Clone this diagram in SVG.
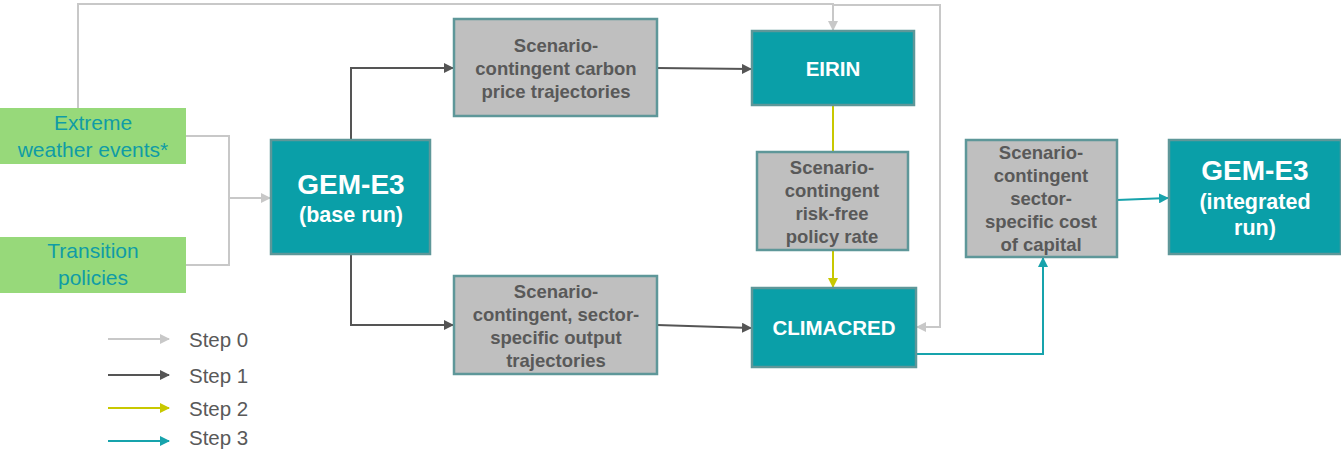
<svg xmlns="http://www.w3.org/2000/svg" width="1341" height="450" viewBox="0 0 1341 450">
<defs>
<style>
.green{fill:#97D97A;}
.gtxt{font-family:"Liberation Sans",Arial,sans-serif;font-size:21px;fill:#109CA5;text-anchor:middle;}
.teal{fill:#0A9FA8;stroke:#5E9799;stroke-width:2.5;}
.grey{fill:#BFBFBF;stroke:#5E9799;stroke-width:2.5;}
.wtxt{font-family:"Liberation Sans",Arial,sans-serif;font-weight:bold;fill:#FFFFFF;text-anchor:middle;}
.ktxt{font-family:"Liberation Sans",Arial,sans-serif;font-weight:bold;font-size:18.5px;fill:#595959;text-anchor:middle;}
.ltxt{font-family:"Liberation Sans",Arial,sans-serif;font-size:20.5px;fill:#595959;}
.c0{fill:none;stroke:#C8C8C8;stroke-width:2;}
.c1{fill:none;stroke:#555555;stroke-width:2;}
.c2{fill:none;stroke:#C8C800;stroke-width:2;}
.c3{fill:none;stroke:#17A3AC;stroke-width:2;}
</style>
<marker id="a0" viewBox="0 0 10 10" refX="9" refY="5" markerWidth="5" markerHeight="5" orient="auto"><path d="M0,0L10,5L0,10z" fill="#C8C8C8"/></marker>
<marker id="a1" viewBox="0 0 10 10" refX="9" refY="5" markerWidth="5" markerHeight="5" orient="auto"><path d="M0,0L10,5L0,10z" fill="#555555"/></marker>
<marker id="a2" viewBox="0 0 10 10" refX="9" refY="5" markerWidth="5" markerHeight="5" orient="auto"><path d="M0,0L10,5L0,10z" fill="#C8C800"/></marker>
<marker id="a3" viewBox="0 0 10 10" refX="9" refY="5" markerWidth="5" markerHeight="5" orient="auto"><path d="M0,0L10,5L0,10z" fill="#17A3AC"/></marker>
</defs>
<rect width="1341" height="450" fill="#FFFFFF"/>

<g id="connectors">
<polyline class="c0" points="186,136 229,136 229,265 186,265"/>
<line class="c0" x1="229" y1="198" x2="270" y2="198" marker-end="url(#a0)"/>
<polyline class="c0" points="78,108 78,4 833,4 833,30" marker-end="url(#a0)"/>
<polyline class="c0" points="833,5 940,5 940,327 917,327" marker-end="url(#a0)"/>
<polyline class="c1" points="351,140 351,68 453,68" marker-end="url(#a1)"/>
<polyline class="c1" points="351,254 351,325 453,325" marker-end="url(#a1)"/>
<line class="c1" x1="657" y1="68" x2="751" y2="69" marker-end="url(#a1)"/>
<line class="c1" x1="657" y1="325" x2="751" y2="328" marker-end="url(#a1)"/>
<line class="c2" x1="833" y1="105" x2="833" y2="152"/>
<line class="c2" x1="833" y1="250" x2="833" y2="287" marker-end="url(#a2)"/>
<polyline class="c3" points="916,354 1043,354 1043,258" marker-end="url(#a3)"/>
<line class="c3" x1="1117" y1="200" x2="1168" y2="198" marker-end="url(#a3)"/>
</g>

<g id="extreme">
<rect class="green" x="0" y="108" width="186" height="56"/>
<text class="gtxt" x="93" y="130">Extreme</text>
<text class="gtxt" x="93" y="157">weather events*</text>
</g>
<g id="transition">
<rect class="green" x="0" y="237" width="186" height="56"/>
<text class="gtxt" x="93" y="258">Transition</text>
<text class="gtxt" x="93" y="285">policies</text>
</g>
<g id="gem-base">
<rect class="teal" x="271" y="140" width="159" height="114"/>
<text class="wtxt" x="351" y="194" font-size="28">GEM-E3</text>
<text class="wtxt" x="351" y="222" font-size="21.5">(base run)</text>
</g>
<g id="carbon">
<rect class="grey" x="454" y="19" width="203" height="97"/>
<text class="ktxt" x="556" y="52">Scenario-</text>
<text class="ktxt" x="556" y="75">contingent carbon</text>
<text class="ktxt" x="556" y="98">price trajectories</text>
</g>
<g id="output">
<rect class="grey" x="454" y="276" width="203" height="98"/>
<text class="ktxt" x="556" y="298">Scenario-</text>
<text class="ktxt" x="556" y="321">contingent, sector-</text>
<text class="ktxt" x="556" y="344">specific output</text>
<text class="ktxt" x="556" y="367">trajectories</text>
</g>
<g id="eirin">
<rect class="teal" x="752" y="31" width="162" height="74"/>
<text class="wtxt" x="833" y="76" font-size="20.5">EIRIN</text>
</g>
<g id="riskfree">
<rect class="grey" x="757" y="152" width="151" height="98"/>
<text class="ktxt" x="832" y="174">Scenario-</text>
<text class="ktxt" x="832" y="197">contingent</text>
<text class="ktxt" x="832" y="220">risk-free</text>
<text class="ktxt" x="832" y="243">policy rate</text>
</g>
<g id="climacred">
<rect class="teal" x="752" y="288" width="164" height="79"/>
<text class="wtxt" x="834" y="335" font-size="20.5">CLIMACRED</text>
</g>
<g id="costcap">
<rect class="grey" x="966" y="140" width="151" height="117"/>
<text class="ktxt" x="1041" y="159">Scenario-</text>
<text class="ktxt" x="1041" y="182">contingent</text>
<text class="ktxt" x="1041" y="205">sector-</text>
<text class="ktxt" x="1041" y="228">specific cost</text>
<text class="ktxt" x="1041" y="251">of capital</text>
</g>
<g id="gem-integrated">
<rect class="teal" x="1169" y="140" width="172" height="114"/>
<text class="wtxt" x="1255" y="180" font-size="28">GEM-E3</text>
<text class="wtxt" x="1255" y="209" font-size="21.5">(integrated</text>
<text class="wtxt" x="1255" y="235" font-size="21.5">run)</text>
</g>
<g id="legend">
<line class="c0" x1="108" y1="339" x2="169" y2="339" marker-end="url(#a0)"/>
<line class="c1" x1="108" y1="375" x2="169" y2="375" marker-end="url(#a1)"/>
<line class="c2" x1="108" y1="408" x2="169" y2="408" marker-end="url(#a2)"/>
<line class="c3" x1="108" y1="441" x2="169" y2="441" marker-end="url(#a3)"/>
<text class="ltxt" x="189" y="347">Step 0</text>
<text class="ltxt" x="189" y="383">Step 1</text>
<text class="ltxt" x="189" y="416">Step 2</text>
<text class="ltxt" x="189" y="445">Step 3</text>
</g>
</svg>
